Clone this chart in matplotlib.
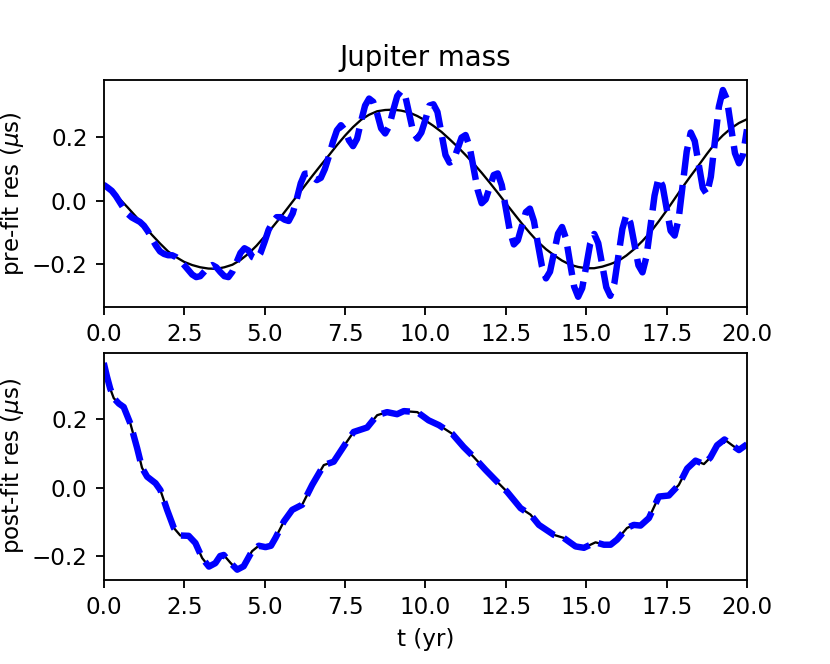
import numpy as np
import matplotlib
matplotlib.use("Agg")
import matplotlib.pyplot as plt

# pre-fit residuals (us): smooth model, sampled every 0.25 yr
pre_model = [0.057, 0.031, 0.005, -0.022, -0.050, -0.079, -0.108, -0.135,
             -0.160, -0.178, -0.193, -0.203, -0.210, -0.214, -0.215, -0.210,
             -0.202, -0.187, -0.167, -0.142, -0.113, -0.083, -0.052, -0.019,
             0.014, 0.047, 0.080, 0.112, 0.143, 0.175, 0.205, 0.232,
             0.255, 0.271, 0.282, 0.286, 0.287, 0.284, 0.278, 0.267,
             0.253, 0.236, 0.217, 0.194, 0.170, 0.144, 0.117, 0.088,
             0.057, 0.025, -0.008, -0.040, -0.072, -0.102, -0.130, -0.153,
             -0.172, -0.189, -0.202, -0.209, -0.213, -0.213, -0.208, -0.200,
             -0.190, -0.173, -0.152, -0.127, -0.099, -0.066, -0.031, 0.006,
             0.043, 0.078, 0.112, 0.147, 0.180, 0.206, 0.228, 0.245, 0.257]

# pre-fit residuals (us): simulated data, sampled every 0.125 yr
pre_data = [0.050, 0.041, 0.031, 0.015, -0.005, -0.025, -0.042, -0.053,
            -0.060, -0.067, -0.079, -0.097, -0.120, -0.142, -0.160, -0.168,
            -0.172, -0.172, -0.178, -0.189, -0.203, -0.218, -0.233, -0.241,
            -0.238, -0.224, -0.210, -0.203, -0.210, -0.225, -0.238, -0.241,
            -0.224, -0.195, -0.165, -0.150, -0.157, -0.178, -0.184, -0.165,
            -0.130, -0.092, -0.068, -0.052, -0.052, -0.060, -0.064, -0.040,
            0.005, 0.055, 0.085, 0.086, 0.075, 0.065, 0.072, 0.100,
            0.140, 0.185, 0.222, 0.238, 0.222, 0.190, 0.172, 0.195,
            0.250, 0.300, 0.322, 0.312, 0.275, 0.228, 0.212, 0.235,
            0.285, 0.330, 0.346, 0.330, 0.272, 0.215, 0.196, 0.215,
            0.255, 0.300, 0.304, 0.280, 0.212, 0.144, 0.120, 0.127,
            0.163, 0.199, 0.207, 0.171, 0.102, 0.034, -0.008, 0.004,
            0.043, 0.081, 0.086, 0.049, -0.024, -0.095, -0.138, -0.125,
            -0.081, -0.036, -0.025, -0.064, -0.137, -0.207, -0.245, -0.224,
            -0.164, -0.104, -0.083, -0.120, -0.197, -0.271, -0.303, -0.276,
            -0.207, -0.135, -0.105, -0.134, -0.204, -0.273, -0.300, -0.261,
            -0.176, -0.089, -0.044, -0.070, -0.137, -0.204, -0.226, -0.176,
            -0.081, 0.016, 0.072, 0.047, -0.024, -0.095, -0.110, -0.057,
            0.049, 0.155, 0.215, 0.188, 0.114, 0.040, 0.020, 0.075,
            0.187, 0.296, 0.349, 0.320, 0.236, 0.150, 0.118, 0.145,
            0.225]

# post-fit residuals (us)
post_t = [0.00, 0.10, 0.20, 0.31, 0.47, 0.62, 0.83, 1.04, 1.19, 1.35,
          1.61, 1.76, 1.97, 2.18, 2.38, 2.64, 2.85, 3.06, 3.27, 3.47,
          3.62, 3.73, 3.94, 4.15, 4.35, 4.61, 4.82, 5.03, 5.20, 5.34,
          5.60, 5.86, 6.17, 6.48, 6.84, 7.15, 7.52, 7.77, 8.19, 8.50,
          8.81, 9.12, 9.33, 9.75, 10.10, 10.42, 10.83, 11.19, 11.50, 11.87,
          12.18, 12.54, 12.96, 13.27, 13.53, 13.99, 14.30, 14.67, 14.93, 15.29,
          15.55, 15.76, 15.96, 16.27, 16.48, 16.69, 16.95, 17.26, 17.57, 17.88,
          18.14, 18.40, 18.66, 18.86, 19.07, 19.30, 19.54, 19.75, 20.00]
post_res = [0.365, 0.325, 0.290, 0.262, 0.246, 0.236, 0.187, 0.115, 0.058, 0.032,
            0.013, -0.007, -0.065, -0.118, -0.140, -0.141, -0.162, -0.206, -0.231, -0.221,
            -0.200, -0.197, -0.220, -0.240, -0.230, -0.186, -0.170, -0.174, -0.170, -0.147,
            -0.099, -0.065, -0.050, 0.008, 0.066, 0.076, 0.129, 0.163, 0.176, 0.212,
            0.221, 0.215, 0.224, 0.221, 0.197, 0.183, 0.158, 0.119, 0.090, 0.052,
            0.022, -0.012, -0.060, -0.079, -0.109, -0.138, -0.147, -0.172, -0.176, -0.160,
            -0.167, -0.167, -0.152, -0.118, -0.109, -0.111, -0.089, -0.026, -0.023, 0.008,
            0.056, 0.079, 0.069, 0.088, 0.124, 0.141, 0.124, 0.110, 0.127]

t_model = np.linspace(0, 20, len(pre_model))
t_data = np.linspace(0, 20, len(pre_data))

fig, (ax1, ax2) = plt.subplots(2, 1, figsize=(5, 4), dpi=166)
fig.subplots_adjust(left=0.125, right=0.9, top=0.88, bottom=0.1265, hspace=0.2)

dash = (4.5, 1.5)

ax1.plot(t_model, pre_model, 'k-', lw=1)
ax1.plot(t_data, pre_data, 'b--', lw=2.8, dashes=dash)
ax1.set_xlim(0, 20)
ax1.set_ylabel(r'pre-fit res ($\mu$s)', labelpad=2.5)
ax1.set_title('Jupiter mass')

ax2.plot(post_t, post_res, 'k-', lw=1)
ax2.plot(post_t, post_res, 'b--', lw=2.8, dashes=dash)
ax2.set_xlim(0, 20)
ax2.set_ylabel(r'post-fit res ($\mu$s)', labelpad=2.5)
ax2.set_xlabel('t (yr)')

fig.savefig('out.png', dpi=166)
